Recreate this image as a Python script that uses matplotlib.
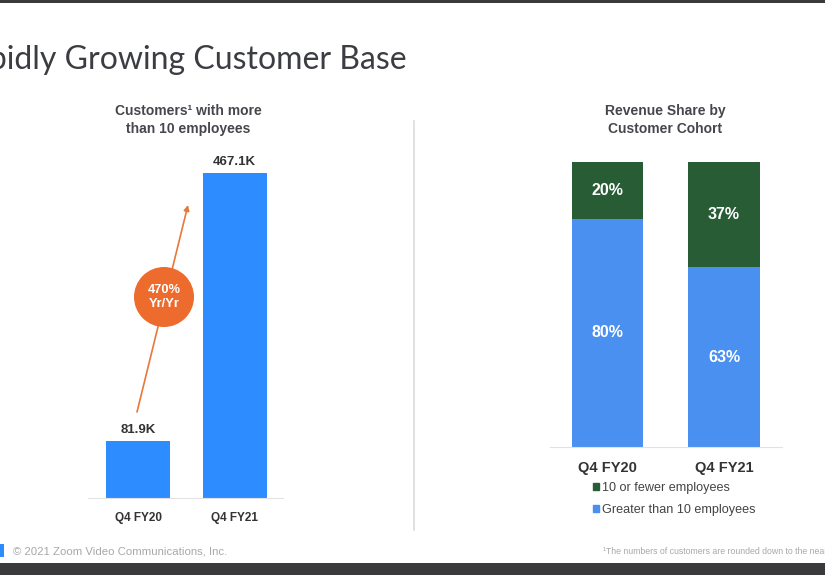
import matplotlib.pyplot as plt
from matplotlib.patches import Circle, Rectangle, Patch

# data
periods = ["Q4 FY20", "Q4 FY21"]
customers_k = [81.9, 467.1]
share_large = [80, 63]   # greater than 10 employees
share_small = [20, 37]   # 10 or fewer employees
yoy_growth = "470%"

W, H = 825, 575
blue = "#2D8CFF"
blue2 = "#4A90F0"
green = "#275C35"
orange = "#EE6B2E"
dark = "#3b3d42"

fig = plt.figure(figsize=(W / 100, H / 100), dpi=100)
fig.patch.set_facecolor("white")


def px_axes(x0, y0, x1, y1):
    # y measured from top of the image, like the screenshot
    return fig.add_axes([x0 / W, 1 - y1 / H, (x1 - x0) / W, (y1 - y0) / H])


# overlay for slide decoration
deco = px_axes(0, 0, W, H)
deco.set_xlim(0, W)
deco.set_ylim(H, 0)
deco.axis("off")

deco.add_patch(Rectangle((0, 0), W, 3, color="#3a3a3c", lw=0))
deco.add_patch(Rectangle((0, 563), W, 12, color="#3a3a3c", lw=0))
deco.add_patch(Rectangle((0, 544), 4, 13, color=blue, lw=0))
deco.plot([414, 414], [121, 530], color="#dcdcdc", lw=1.2)

# slide title is cropped at the left edge in the screenshot
deco.text(407, 69, "Rapidly Growing Customer Base", ha="right", va="baseline",
          fontsize=23, color=dark, family="Lato")
deco.text(13, 551, "\u00a9 2021 Zoom Video Communications, Inc.", ha="left", va="center",
          fontsize=8.2, color="#a8a8a8", family="Liberation Sans")
deco.text(603, 551, "\u00b9The numbers of customers are rounded down to the nearest hundred.",
          ha="left", va="center", fontsize=6.3, color="#a8a8a8", family="Liberation Sans")

# chart titles
deco.text(188, 120, "Customers\u00b9 with more\nthan 10 employees", ha="center", va="center",
          fontsize=10, fontweight="bold", color="#45474c", family="Liberation Sans", linespacing=1.3)
deco.text(665, 120, "Revenue Share by\nCustomer Cohort", ha="center", va="center",
          fontsize=10, fontweight="bold", color="#45474c", family="Liberation Sans", linespacing=1.3)

# left chart: customers
ax1 = px_axes(88, 150, 283, 498)
ax1.bar(range(len(periods)), customers_k, width=0.66, color=blue)
ax1.set_xlim(-0.52, 1.5)
ax1.set_ylim(0, 500)
for i, v in enumerate(customers_k):
    ax1.text(i, v + 7, f"{v}K", ha="center", va="bottom", fontsize=9.5,
             fontweight="bold", color="#333333", family="Liberation Sans")
ax1.set_xticks(range(len(periods)))
ax1.set_xticklabels(periods, fontsize=8.5, fontweight="bold", color="#333333",
                    family="Liberation Sans")
ax1.tick_params(axis="x", length=0, pad=10)
ax1.set_yticks([])
for s in ["top", "right", "left"]:
    ax1.spines[s].set_visible(False)
ax1.spines["bottom"].set_color("#e2e2e2")
ax1.patch.set_alpha(0)

# growth arrow and bubble
deco.annotate("", xy=(188, 205), xytext=(137, 412),
              arrowprops=dict(arrowstyle="-|>", color="#E8773A", lw=1.2, mutation_scale=8,
                              shrinkA=0, shrinkB=0))
deco.add_patch(Circle((164, 297), 30, color=orange, lw=0, zorder=3))
deco.text(164, 297, f"{yoy_growth}\nYr/Yr", ha="center", va="center", fontsize=9.3,
          fontweight="bold", color="white", family="Liberation Sans", zorder=4,
          linespacing=1.3)

# right chart: revenue share
ax2 = px_axes(550, 150, 782, 447)
x = range(len(periods))
ax2.bar(x, share_large, width=0.61, color=blue2)
ax2.bar(x, share_small, width=0.61, bottom=share_large, color=green)
ax2.set_xlim(-0.494, 1.498)
ax2.set_ylim(0, 104.2)
for i in x:
    ax2.text(i, share_large[i] / 2, f"{share_large[i]}%", ha="center", va="center",
             fontsize=11.5, fontweight="bold", color="white", family="Liberation Sans")
    ax2.text(i, share_large[i] + share_small[i] / 2, f"{share_small[i]}%", ha="center",
             va="center", fontsize=11.5, fontweight="bold", color="white",
             family="Liberation Sans")
ax2.set_xticks(list(x))
ax2.set_xticklabels(periods, fontsize=10.5, fontweight="bold", color="#333333",
                    family="Liberation Sans")
ax2.tick_params(axis="x", length=0, pad=10)
ax2.set_yticks([])
for s in ["top", "right", "left"]:
    ax2.spines[s].set_visible(False)
ax2.spines["bottom"].set_color("#e2e2e2")
ax2.patch.set_alpha(0)

handles = [Patch(color=green, label="10 or fewer employees"),
           Patch(color=blue2, label="Greater than 10 employees")]
fig.legend(handles=handles, loc="upper left", bbox_to_anchor=(593 / W, 1 - 482 / H),
           frameon=False, borderaxespad=0, borderpad=0, handlelength=0.45, handleheight=0.5,
           handletextpad=0.25, labelspacing=0.8,
           prop={"family": "Liberation Sans", "size": 9.1}, labelcolor="#444444")

fig.savefig("out.png", dpi=100)
